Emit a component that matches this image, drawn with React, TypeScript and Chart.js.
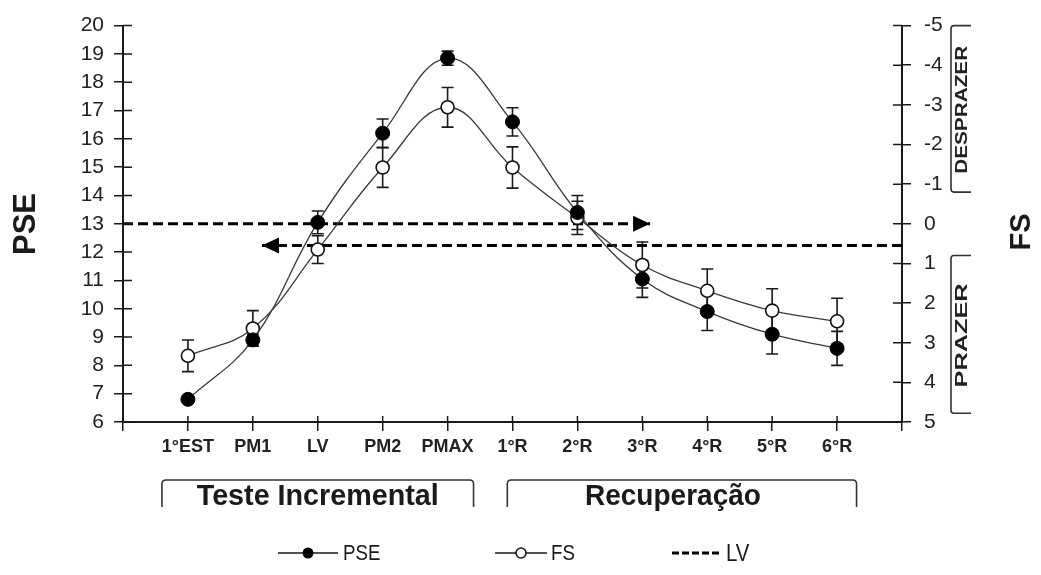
import React, { useEffect, useRef } from 'react';
import { Chart, registerables } from 'chart.js';

Chart.register(...registerables);

// ---------- data ----------
const categories = ['1°EST', 'PM1', 'LV', 'PM2', 'PMAX', '1°R', '2°R', '3°R', '4°R', '5°R', '6°R'];
const pseValues = [6.8, 8.9, 13.05, 16.2, 18.85, 16.6, 13.4, 11.05, 9.9, 9.1, 8.6];
const pseErrors = [0.1, 0.2, 0.4, 0.5, 0.25, 0.5, 0.6, 0.65, 0.67, 0.7, 0.6];
const fsValues = [3.33, 2.64, 0.65, -1.42, -2.94, -1.42, -0.15, 1.04, 1.69, 2.19, 2.46];
const fsErrors = [0.4, 0.45, 0.35, 0.5, 0.5, 0.52, 0.42, 0.58, 0.55, 0.55, 0.58];
const pseRange = [6, 20];
const fsRange = [-5, 5];
const lvPseLevel = 13;
const lvPseSpan = [0, 8.12];
const lvFsLevel = 0.55;
const lvFsSpan = [2.14, 12];
const phaseLabels = ['Teste Incremental', 'Recuperação'];
const phaseSpans = [[0.6, 5.4], [5.92, 11.3]];
const moodLabels = ['DESPRAZER', 'PRAZER'];
const moodSpans = [[-5, -0.8], [0.8, 4.78]];
const legendLabels = ['PSE', 'FS', 'LV'];
const axisTitles = ['PSE', 'FS'];

const SANS = '"Liberation Sans", Arial, sans-serif';
const INK = '#1a1a1a';

function fillCondensed(ctx: any, text: string, x: number, y: number, sx: number) {
  ctx.save();
  ctx.translate(x, y);
  ctx.scale(sx, 1);
  ctx.fillText(text, 0, 0);
  ctx.restore();
}

const decorPlugin = {
  id: 'decor',
  beforeDatasetsDraw(chart: any) {
    const ctx = chart.ctx;
    const xs = chart.scales.x;
    const sets = [
      { vals: pseValues, errs: pseErrors, scale: chart.scales.y },
      { vals: fsValues, errs: fsErrors, scale: chart.scales.y1 },
    ];
    ctx.save();
    ctx.strokeStyle = INK;
    ctx.lineWidth = 1.6;
    sets.forEach((s) => {
      s.vals.forEach((v, i) => {
        const px = xs.getPixelForValue(i + 1);
        const a = s.scale.getPixelForValue(v + s.errs[i]);
        const b = s.scale.getPixelForValue(v - s.errs[i]);
        ctx.beginPath();
        ctx.moveTo(px, a);
        ctx.lineTo(px, b);
        ctx.moveTo(px - 6, a);
        ctx.lineTo(px + 6, a);
        ctx.moveTo(px - 6, b);
        ctx.lineTo(px + 6, b);
        ctx.stroke();
      });
    });
    ctx.restore();
  },
  afterDraw(chart: any) {
    const ctx = chart.ctx;
    const xs = chart.scales.x;
    const ys = chart.scales.y;
    const y1 = chart.scales.y1;
    const area = chart.chartArea;
    ctx.save();
    // inner halves of axis ticks
    ctx.strokeStyle = INK;
    ctx.lineWidth = 1.5;
    ctx.beginPath();
    for (let v = pseRange[0]; v <= pseRange[1]; v++) {
      const p = ys.getPixelForValue(v);
      ctx.moveTo(area.left, p);
      ctx.lineTo(area.left + 9, p);
    }
    for (let v = fsRange[0]; v <= fsRange[1]; v++) {
      const p = y1.getPixelForValue(v);
      ctx.moveTo(area.right - 9, p);
      ctx.lineTo(area.right, p);
    }
    for (let v = 0; v <= categories.length + 1; v++) {
      const p = xs.getPixelForValue(v);
      ctx.moveTo(p, area.bottom);
      ctx.lineTo(p, area.bottom - 6);
    }
    ctx.stroke();

    // arrow heads of LV lines
    ctx.fillStyle = '#000';
    const tipR = xs.getPixelForValue(lvPseSpan[1]);
    const yR = ys.getPixelForValue(lvPseLevel);
    ctx.beginPath();
    ctx.moveTo(tipR, yR);
    ctx.lineTo(tipR - 17, yR - 8);
    ctx.lineTo(tipR - 17, yR + 8);
    ctx.closePath();
    ctx.fill();
    const tipL = xs.getPixelForValue(lvFsSpan[0]);
    const yL = y1.getPixelForValue(lvFsLevel);
    ctx.beginPath();
    ctx.moveTo(tipL, yL);
    ctx.lineTo(tipL + 17, yL - 8);
    ctx.lineTo(tipL + 17, yL + 8);
    ctx.closePath();
    ctx.fill();

    // axis titles
    ctx.fillStyle = INK;
    ctx.textAlign = 'center';
    ctx.textBaseline = 'middle';
    ctx.font = `bold 31px ${SANS}`;
    ctx.save();
    ctx.translate(26, 224);
    ctx.rotate(-Math.PI / 2);
    ctx.fillText(axisTitles[0], 0, 0);
    ctx.restore();
    ctx.font = `bold 29px ${SANS}`;
    ctx.save();
    ctx.translate(1022, 232);
    ctx.rotate(-Math.PI / 2);
    ctx.fillText(axisTitles[1], 0, 0);
    ctx.restore();

    // right-side mood brackets
    ctx.strokeStyle = '#333';
    ctx.lineWidth = 1.6;
    const moodWidths = [128, 104];
    moodSpans.forEach((sp, i) => {
      const t = y1.getPixelForValue(sp[0]);
      const b = y1.getPixelForValue(sp[1]);
      const bx = 951;
      ctx.beginPath();
      ctx.moveTo(971, t);
      ctx.lineTo(bx + 3, t);
      ctx.quadraticCurveTo(bx, t, bx, t + 3);
      ctx.lineTo(bx, b - 3);
      ctx.quadraticCurveTo(bx, b, bx + 3, b);
      ctx.lineTo(971, b);
      ctx.stroke();
      ctx.save();
      ctx.translate(962, (t + b) / 2 + 1);
      ctx.rotate(-Math.PI / 2);
      ctx.font = `bold 17px ${SANS}`;
      ctx.fillStyle = '#222';
      const w = ctx.measureText(moodLabels[i]).width;
      fillCondensed(ctx, moodLabels[i], 0, 0, moodWidths[i] / w);
      ctx.restore();
    });

    // phase brackets under the x axis
    const phaseWidths = [242, 176];
    const phaseShift = [0, -9];
    phaseSpans.forEach((sp, i) => {
      const l = xs.getPixelForValue(sp[0]);
      const r = xs.getPixelForValue(sp[1]);
      const t = 480;
      const b = 507;
      ctx.beginPath();
      ctx.moveTo(l, b);
      ctx.lineTo(l, t + 4);
      ctx.quadraticCurveTo(l, t, l + 4, t);
      ctx.lineTo(r - 4, t);
      ctx.quadraticCurveTo(r, t, r, t + 4);
      ctx.lineTo(r, b);
      ctx.stroke();
      ctx.font = `bold 30px ${SANS}`;
      ctx.fillStyle = '#1a1a1a';
      const w = ctx.measureText(phaseLabels[i]).width;
      fillCondensed(ctx, phaseLabels[i], (l + r) / 2 + phaseShift[i], 497, phaseWidths[i] / w);
    });

    // legend
    const ly = 553;
    ctx.textAlign = 'left';
    ctx.font = `22px ${SANS}`;
    ctx.strokeStyle = INK;
    ctx.lineWidth = 1.6;
    ctx.beginPath();
    ctx.moveTo(278, ly);
    ctx.lineTo(338, ly);
    ctx.stroke();
    ctx.beginPath();
    ctx.arc(308, ly, 5.5, 0, Math.PI * 2);
    ctx.fillStyle = '#000';
    ctx.fill();
    ctx.fillStyle = INK;
    fillCondensed(ctx, legendLabels[0], 343, ly + 1, 0.85);

    ctx.beginPath();
    ctx.moveTo(495, ly);
    ctx.lineTo(547, ly);
    ctx.stroke();
    ctx.beginPath();
    ctx.arc(521, ly, 5, 0, Math.PI * 2);
    ctx.fillStyle = '#fff';
    ctx.fill();
    ctx.stroke();
    ctx.fillStyle = INK;
    fillCondensed(ctx, legendLabels[1], 551, ly + 1, 0.85);

    ctx.lineWidth = 3;
    ctx.strokeStyle = '#000';
    ctx.setLineDash([7, 3]);
    ctx.beginPath();
    ctx.moveTo(672, ly);
    ctx.lineTo(721, ly);
    ctx.stroke();
    ctx.setLineDash([]);
    ctx.font = `24px ${SANS}`;
    fillCondensed(ctx, legendLabels[2], 726, ly + 1, 0.85);
    ctx.restore();
  },
};

export default function App() {
  const ref = useRef<HTMLCanvasElement | null>(null);
  useEffect(() => {
    if (!ref.current) return;
    const tickFont = { family: SANS, size: 21 };
    const chart = new Chart(ref.current, {
      type: 'line',
      data: {
        datasets: [
          {
            label: 'PSE',
            data: pseValues.map((v, i) => ({ x: i + 1, y: v })),
            yAxisID: 'y',
            borderColor: '#3a3a3a',
            borderWidth: 1.3,
            tension: 0.4,
            pointRadius: 7,
            pointBackgroundColor: '#000',
            pointBorderColor: '#000',
            pointBorderWidth: 1,
          },
          {
            label: 'FS',
            data: fsValues.map((v, i) => ({ x: i + 1, y: v })),
            yAxisID: 'y1',
            borderColor: '#3a3a3a',
            borderWidth: 1.3,
            tension: 0.4,
            pointRadius: 6.5,
            pointBackgroundColor: '#fff',
            pointBorderColor: '#111',
            pointBorderWidth: 1.6,
          },
          {
            label: 'LV',
            data: lvPseSpan.map((x) => ({ x, y: lvPseLevel })),
            yAxisID: 'y',
            borderColor: '#000',
            borderWidth: 3,
            borderDash: [10, 5],
            pointRadius: 0,
          },
          {
            label: 'LV FS',
            data: lvFsSpan.map((x) => ({ x, y: lvFsLevel })),
            yAxisID: 'y1',
            borderColor: '#000',
            borderWidth: 3,
            borderDash: [10, 5],
            pointRadius: 0,
          },
        ],
      },
      options: {
        animation: false,
        responsive: false,
        maintainAspectRatio: false,
        layout: { padding: { top: 20, left: 0, right: 0, bottom: 0 } },
        plugins: { legend: { display: false }, tooltip: { enabled: false } },
        scales: {
          x: {
            type: 'linear',
            min: 0,
            max: categories.length + 1,
            afterBuildTicks: (s: any) => {
              const t = [];
              for (let v = 0; v <= categories.length + 1; v++) t.push({ value: v });
              s.ticks = t;
            },
            afterFit: (s: any) => {
              s.height = 153;
            },
            ticks: {
              autoSkip: false,
              maxRotation: 0,
              padding: 5,
              color: '#222',
              font: { family: SANS, size: 18, weight: 'bold' },
              callback: (v: any) => categories[Number(v) - 1] ?? '',
            },
            grid: { drawOnChartArea: false, drawTicks: true, tickLength: 9, color: INK, lineWidth: 1.5 },
            border: { display: true, color: INK, width: 2 },
          },
          y: {
            type: 'linear',
            position: 'left',
            min: pseRange[0],
            max: pseRange[1],
            afterFit: (s: any) => {
              s.width = 123;
            },
            ticks: { stepSize: 1, padding: 10, color: '#222', font: tickFont },
            grid: { drawOnChartArea: false, drawTicks: true, tickLength: 9, color: INK, lineWidth: 1.5 },
            border: { display: true, color: INK, width: 2 },
          },
          y1: {
            type: 'linear',
            position: 'right',
            reverse: true,
            min: fsRange[0],
            max: fsRange[1],
            afterFit: (s: any) => {
              s.width = 139;
            },
            ticks: {
              stepSize: 1,
              padding: 13,
              color: '#222',
              font: tickFont,
              callback: (v: any) => String(v),
            },
            grid: { drawOnChartArea: false, drawTicks: true, tickLength: 9, color: INK, lineWidth: 1.5 },
            border: { display: true, color: INK, width: 2 },
          },
        },
      } as any,
      plugins: [decorPlugin],
    });
    return () => chart.destroy();
  }, []);
  return (
    <div style={{ position: 'fixed', left: 0, top: 0, width: 1041, height: 575, background: '#fff' }}>
      <canvas ref={ref} width={1041} height={575} style={{ display: 'block' }} />
    </div>
  );
}
